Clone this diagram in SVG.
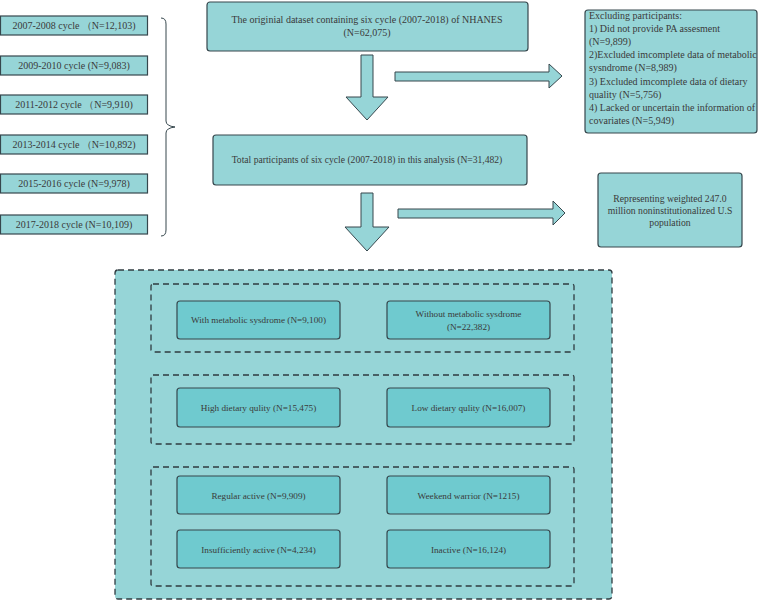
<svg xmlns="http://www.w3.org/2000/svg" width="763" height="601" viewBox="0 0 763 601" font-family="'Liberation Serif', 'Times New Roman', serif">
<style>
text{font-family:'Liberation Serif','Times New Roman',serif;font-size:10px;fill:#3a3a3a}
.b{fill:#96d5d7;stroke:#36474d;stroke-width:1.2}
.n{fill:#6fcacf;stroke:#36474d;stroke-width:1.2}
.d{fill:none;stroke:#2f3b40;stroke-width:1.3;stroke-dasharray:6,4}
.a{fill:#96d5d7;stroke:#36474d;stroke-width:1}
.c{text-anchor:middle}
.s{font-size:9.2px}
</style>
<rect width="763" height="601" fill="#fff"/>
<g id="cycles">
<g id="c1"><rect class="b" x="0.5" y="16" width="147" height="19"/><text class="c" x="74" y="29">2007-2008 cycle （N=12,103)</text></g>
<g id="c2"><rect class="b" x="0.5" y="56" width="147" height="19"/><text class="c" x="74" y="69">2009-2010 cycle (N=9,083)</text></g>
<g id="c3"><rect class="b" x="0.5" y="95" width="147" height="19"/><text class="c" x="74" y="108">2011-2012 cycle （N=9,910)</text></g>
<g id="c4"><rect class="b" x="0.5" y="135" width="147" height="19"/><text class="c" x="74" y="148">2013-2014 cycle （N=10,892)</text></g>
<g id="c5"><rect class="b" x="0.5" y="174" width="147" height="19"/><text class="c" x="74" y="187">2015-2016 cycle (N=9,978)</text></g>
<g id="c6"><rect class="b" x="0.5" y="215" width="147" height="19"/><text class="c" x="74" y="228">2017-2018 cycle (N=10,109)</text></g>
</g>
<g id="top"><rect class="b" x="207" y="2" width="321" height="49" rx="3"/><text class="c" x="367" y="23">The originial dataset containing six cycle (2007-2018) of NHANES</text><text class="c" x="367" y="36">(N=62,075)</text></g>
<g id="exclude"><rect class="b" x="585" y="10" width="172" height="123" rx="3"/>
<text x="589" y="19">Excluding participants:</text>
<text x="589" y="32">1) Did not provide PA assesment</text>
<text x="589" y="45">(N=9,899)</text>
<text x="589" y="58">2)Excluded imcomplete data of metabolic</text>
<text x="589" y="71">sysndrome (N=8,989)</text>
<text x="589" y="85">3) Excluded imcomplete data of dietary</text>
<text x="589" y="98">quality (N=5,756)</text>
<text x="589" y="111" textLength="166">4) Lacked or uncertain the information of</text>
<text x="589" y="124">covariates (N=5,949)</text></g>
<g id="total"><rect class="b" x="213" y="135" width="314" height="50" rx="3"/><text class="c" x="367" y="163" style="font-size:9.6px">Total participants of six cycle (2007-2018) in this analysis (N=31,482)</text></g>
<g id="weighted"><rect class="b" x="598" y="173" width="144" height="74" rx="3"/><text class="c" x="670" y="202" style="font-size:9.7px">Representing weighted 247.0</text><text class="c" x="670" y="214" style="font-size:9.7px">million noninstitutionalized U.S</text><text class="c" x="670" y="226" style="font-size:9.7px">population</text></g>
<g id="connectors">
<path d="M161,18 Q166,18 166,24 V121 Q166,126 175,127 Q166,128 166,133 V230 Q166,236 161,236" fill="none" stroke="#36474d" stroke-width="1"/>
<path class="a" d="M361,55 H373 V97 H388 L367,120 L346,97 H361 Z"/>
<path class="a" d="M395,72 H549 V64 L562,76 L549,88 V81 H395 Z"/>
<path class="a" d="M361,193 H373 V227 H389 L367,251 L345,227 H361 Z"/>
<path class="a" d="M398,209 H553 V201 L565,213 L553,225 V218 H398 Z"/>
</g>
<g id="groups">
<rect x="115" y="270" width="497" height="329" rx="3" fill="#96d5d7" stroke="#2f3b40" stroke-width="1.3" stroke-dasharray="6,4"/>
<rect class="d" x="151" y="284" width="423" height="68" rx="2"/>
<rect class="d" x="151" y="375" width="423" height="69" rx="2"/>
<rect class="d" x="151" y="467" width="423" height="119" rx="2"/>
</g>
<g id="ms1"><rect class="n" x="177" y="301" width="163" height="38" rx="3"/><text class="c s" x="258.5" y="323">With metabolic sysdrome (N=9,100)</text></g>
<g id="ms2"><rect class="n" x="387" y="301" width="163" height="38" rx="3"/><text class="c s" x="468.5" y="317">Without metabolic sysdrome</text><text class="c s" x="468.5" y="330">(N=22,382)</text></g>
<g id="dq1"><rect class="n" x="177" y="388" width="163" height="39" rx="3"/><text class="c s" x="258.5" y="411">High dietary qulity (N=15,475)</text></g>
<g id="dq2"><rect class="n" x="387" y="388" width="163" height="39" rx="3"/><text class="c s" x="468.5" y="411">Low dietary qulity (N=16,007)</text></g>
<g id="pa1"><rect class="n" x="177" y="476" width="163" height="38" rx="3"/><text class="c s" x="258.5" y="499">Regular active (N=9,909)</text></g>
<g id="pa2"><rect class="n" x="387" y="476" width="163" height="38" rx="3"/><text class="c s" x="468.5" y="499">Weekend warrior (N=1215)</text></g>
<g id="pa3"><rect class="n" x="177" y="530" width="163" height="38" rx="3"/><text class="c s" x="258.5" y="553">Insufficiently active (N=4,234)</text></g>
<g id="pa4"><rect class="n" x="387" y="530" width="163" height="38" rx="3"/><text class="c s" x="468.5" y="553">Inactive (N=16,124)</text></g>
</svg>
